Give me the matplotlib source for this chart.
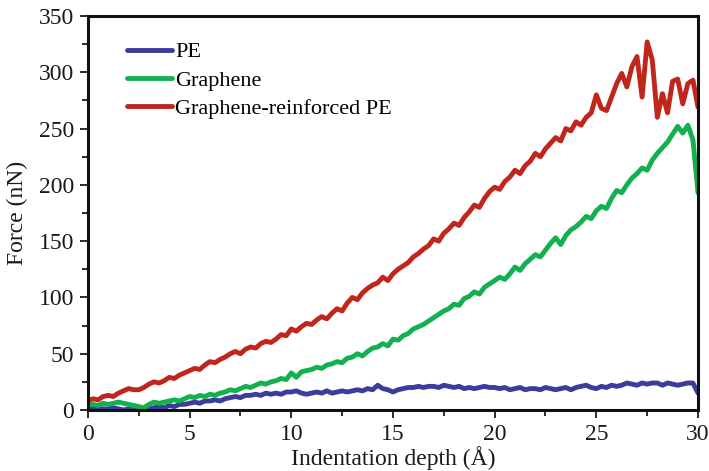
import matplotlib

matplotlib.use("Agg")
import matplotlib.pyplot as plt
import numpy as np
from matplotlib.ticker import MultipleLocator

# indentation depth sampled every 0.25 A, 0..30
depth = [i * 0.25 for i in range(121)]

force_pe = [
    2, 3, 2, 1, 1, 2, 1, 0, 1, 0, 1, 0, 1, 2, 3, 2,
    4, 3, 5, 5, 6, 7, 6, 8, 8, 9, 8, 10, 11, 12, 11, 13,
    13, 14, 13, 15, 14, 15, 14, 16, 16, 17, 15, 14, 15, 16, 15, 17,
    15, 16, 17, 16, 17, 18, 17, 19, 18, 22, 19, 18, 16, 18, 19, 20,
    20, 21, 20, 21, 21, 20, 22, 21, 20, 21, 19, 20, 19, 20, 21, 20,
    20, 19, 20, 18, 19, 20, 18, 19, 19, 18, 20, 19, 18, 19, 20, 18,
    20, 21, 22, 20, 19, 21, 20, 22, 21, 22, 24, 23, 22, 24, 23, 24,
    24, 22, 24, 23, 22, 23, 24, 24, 15,
]

force_graphene = [
    4, 5, 4, 6, 5, 6, 7, 6, 5, 4, 3, 2, 5, 7, 6, 7,
    8, 9, 8, 10, 12, 11, 13, 12, 14, 13, 15, 16, 18, 17, 19, 21,
    20, 22, 24, 23, 25, 26, 28, 27, 33, 29, 34, 35, 36, 38, 37, 40,
    41, 43, 42, 46, 47, 50, 48, 52, 55, 56, 59, 57, 63, 62, 66, 68,
    72, 74, 76, 79, 82, 85, 88, 90, 94, 93, 99, 101, 105, 103, 109, 112,
    115, 118, 116, 121, 127, 124, 130, 134, 138, 136, 142, 148, 153, 147, 155, 160,
    163, 167, 172, 170, 177, 181, 179, 188, 195, 193, 200, 206, 210, 215, 213, 222,
    228, 233, 238, 245, 252, 246, 253, 240, 193,
]

force_composite = [
    8, 10, 9, 12, 13, 12, 15, 17, 19, 18, 18, 20, 23, 25, 24, 26,
    29, 28, 31, 33, 35, 37, 36, 40, 43, 42, 45, 47, 50, 52, 50, 54,
    56, 55, 59, 61, 60, 63, 67, 66, 72, 70, 74, 77, 76, 80, 83, 81,
    86, 90, 88, 95, 100, 98, 104, 108, 111, 113, 118, 115, 121, 125, 128, 131,
    136, 139, 143, 146, 152, 150, 157, 161, 166, 164, 171, 176, 182, 180, 188, 194,
    198, 196, 203, 207, 213, 210, 217, 221, 228, 225, 232, 237, 242, 239, 250, 248,
    256, 253, 260, 264, 280, 268, 266, 278, 290, 299, 287, 305, 314, 278, 327, 311,
    260, 281, 264, 292, 294, 272, 290, 293, 269,
]

series = [
    ("PE", force_pe, "#3c3c9c"),
    ("Graphene", force_graphene, "#12b04e"),
    ("Graphene-reinforced PE", force_composite, "#c0261c"),
]

plt.rcParams["font.family"] = ["Liberation Serif", "DejaVu Serif"]

fig = plt.figure(figsize=(7.09, 4.71), dpi=100)
ax = fig.add_axes([0.124, 0.1295, 0.8605, 0.8365])

for label, y, color in series:
    ax.plot(depth, y, color=color, lw=3.5, label=label, solid_capstyle="round", solid_joinstyle="round")

ax.set_xlim(0, 30)
ax.set_ylim(0, 350)
ax.xaxis.set_major_locator(MultipleLocator(5))
ax.xaxis.set_minor_locator(MultipleLocator(2.5))
ax.yaxis.set_major_locator(MultipleLocator(50))
ax.yaxis.set_minor_locator(MultipleLocator(25))
ax.tick_params(which="both", direction="out", top=False, right=False, width=1.3, labelsize=17, colors="#1a1a1a")
ax.tick_params(which="major", length=6, pad=4)
ax.tick_params(which="minor", length=4)
for sp in ax.spines.values():
    sp.set_linewidth(2.2)
    sp.set_color("#111111")

ax.set_xlabel("Indentation depth (Å)", fontsize=17, labelpad=1, color="#1a1a1a")
ax.set_ylabel("Force (nN)", fontsize=17, labelpad=8, color="#1a1a1a")

leg = ax.legend(loc="upper left", frameon=False, fontsize=16, handlelength=2.0,
                handletextpad=0.15, labelspacing=0.35, borderaxespad=0.5,
                bbox_to_anchor=(0.032, 0.985))

fig.savefig("out.png", dpi=100)
